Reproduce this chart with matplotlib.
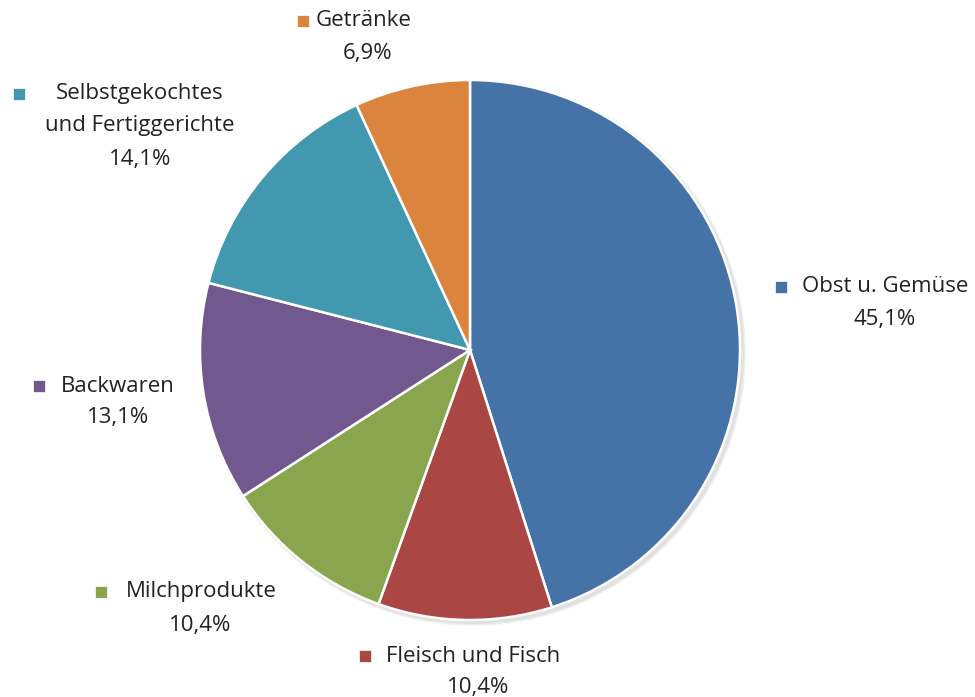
import matplotlib.pyplot as plt
from matplotlib.patches import Circle

# Data
categories = ["Obst u. Gemüse", "Fleisch und Fisch", "Milchprodukte",
              "Backwaren", "Selbstgekochtes\nund Fertiggerichte", "Getränke"]
shares = [45.1, 10.4, 10.4, 13.1, 14.1, 6.9]
colors = ["#4572A7", "#AA4643", "#89A54E", "#71588F", "#4198AF", "#DB843D"]

# label layout in pixel coords from top-left: (name center x, first line y, marker x, pct x, pct y)
label_pos = [
    (885, 287, 781, 885, 320),
    (473, 656, 365, 478, 688),
    (201, 592, 101, 200, 626),
    (118, 386, 39, 118, 418),
    (140, 94, 19, 140, 159),
    (364, 21, 303, 368, 53),
]

plt.rcParams['font.family'] = ['Open Sans', 'DejaVu Sans']

W, H = 975, 697
fig = plt.figure(figsize=(9.75, 6.97), dpi=100)
ax = fig.add_axes([0, 0, 1, 1])

cx, cy, r = 470, H - 350, 270

# soft shadow
for i in range(3):
    ax.add_patch(Circle((cx + 3, cy - 3), r + 1 + i, color='black', alpha=0.04, lw=0))

wedges, _ = ax.pie(shares, colors=colors, center=(cx, cy), radius=r,
                   startangle=90, counterclock=False,
                   wedgeprops=dict(edgecolor='white', linewidth=1.8))
ax.set_xlim(0, W)
ax.set_ylim(0, H)
ax.set_aspect('equal')
ax.axis('off')

for name, val, col, (nx, ny, mx, px, py) in zip(categories, shares, colors, label_pos):
    for k, line in enumerate(name.split("\n")):
        ax.text(nx, H - (ny + 32 * k), line, ha='center', va='center',
                fontsize=16, color='#222222')
    ax.scatter([mx], [H - ny], marker='s', s=85, color=col, edgecolors='white',
               linewidths=0.5, zorder=5)
    ax.text(px, H - py, f"{val:.1f}%".replace('.', ','), ha='center', va='center',
            fontsize=16, color='#222222')

plt.savefig('out.png', dpi=100)
